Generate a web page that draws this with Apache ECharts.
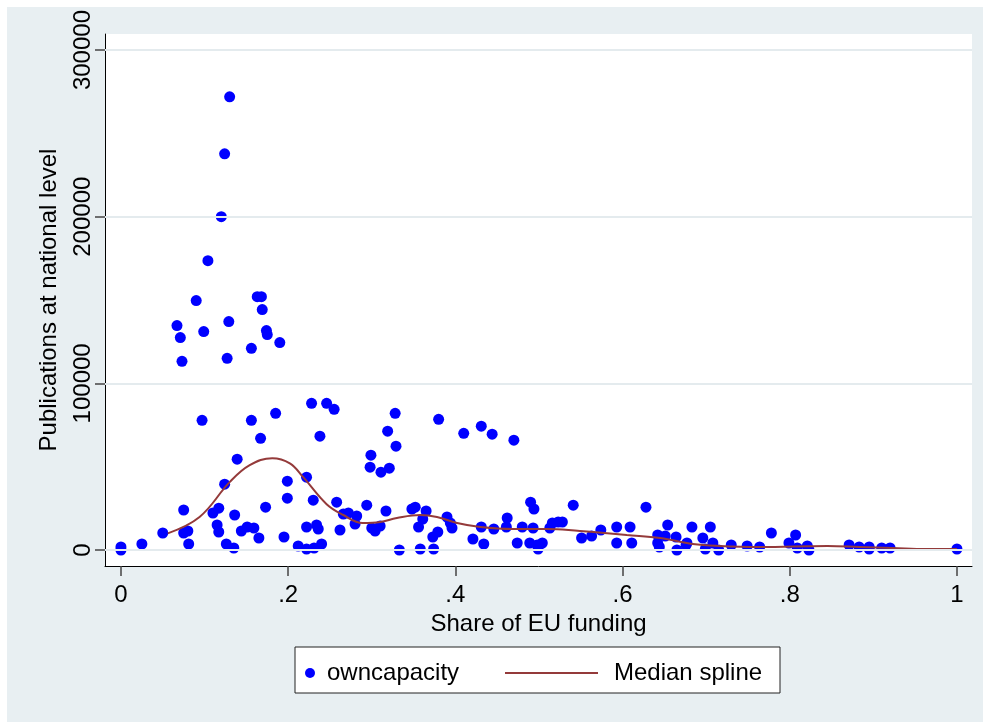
<!DOCTYPE html>
<html>
<head>
<meta charset="utf-8">
<script src="https://cdn.jsdelivr.net/npm/echarts@6/dist/echarts.min.js"></script>
<style>
  html, body { margin: 0; padding: 0; background: #ffffff; }
  #chart { position: absolute; left: 7px; top: 7px; width: 976px; height: 715px; }
</style>
</head>
<body>
<div id="chart"></div>
<script>
// share of EU funding (x) and publications at national level (y)
const shareEU = [
  0.130, 0.124, 0.120, 0.104, 0.090, 0.067, 0.071, 0.073, 0.099, 0.129,
  0.127, 0.163, 0.168, 0.169, 0.174, 0.175, 0.190, 0.156, 0.097, 0.156,
  0.185, 0.167, 0.139, 0.228, 0.246, 0.255, 0.238, 0.124, 0.199, 0.222,
  0.199, 0.230, 0.258, 0.075, 0.117, 0.110, 0.136, 0.173, 0.266, 0.272,
  0.050, 0.075, 0.080, 0.115, 0.117, 0.144, 0.151, 0.159, 0.165, 0.195,
  0.222, 0.234, 0.236, 0.262, 0.025, 0.081, 0.126, 0.135, 0.212, 0.222,
  0.231, 0.240, 0.000, 0.000,
  0.328, 0.319, 0.329, 0.299, 0.298, 0.311, 0.321, 0.380, 0.410, 0.431,
  0.444, 0.470, 0.282, 0.280, 0.294, 0.300, 0.304, 0.310, 0.317, 0.333,
  0.348, 0.352, 0.365, 0.361, 0.356, 0.358, 0.374, 0.373, 0.379, 0.390,
  0.394, 0.396, 0.421, 0.431, 0.434, 0.446, 0.462, 0.461, 0.474, 0.480,
  0.490, 0.494, 0.493, 0.489, 0.498, 0.499, 0.504, 0.513, 0.516, 0.523,
  0.528, 0.541, 0.551,
  0.563, 0.574, 0.593, 0.593, 0.609, 0.611, 0.628, 0.642, 0.644, 0.642,
  0.651, 0.654, 0.664, 0.665, 0.676, 0.677, 0.683, 0.696, 0.705, 0.699,
  0.708, 0.715, 0.730, 0.749, 0.764, 0.778, 0.799, 0.807, 0.809, 0.821,
  0.823, 0.871, 0.883, 0.895, 0.895, 0.910, 0.920, 1.000
]
const publications = [
  271900, 237700, 200000, 173600, 149700, 134700, 127500, 113200, 131100, 137100,
  115000, 152000, 152000, 144300, 131700, 129300, 124500, 121000, 77800, 77800,
  82000, 67000, 54500, 88000, 88000, 84400, 68300, 39500, 41300, 43700,
  31100, 29900, 28700, 24000, 25100, 22200, 21000, 25700, 21600, 22200,
  10200, 10200, 11400, 15000, 10800, 11400, 13800, 13200, 7200, 7800,
  13800, 15000, 12600, 12000, 3600, 3600, 3600, 1200, 2400, 600,
  1200, 3600, 1800, 0,
  82000, 71300, 62300, 56900, 49700, 46700, 49100, 78400, 70000, 74300,
  69500, 65900, 20400, 15600, 26900, 13200, 11400, 14400, 23400, 0,
  24600, 25700, 23400, 18600, 13800, 600, 600, 7800, 10800, 19800,
  16200, 13200, 6600, 13800, 3600, 12600, 19200, 13800, 4200, 13800,
  28700, 24600, 13200, 4200, 3000, 600, 4200, 13200, 16200, 16800,
  16800, 26900, 7200,
  8400, 12000, 13800, 4200, 13800, 4200, 25700, 9000, 1800, 4200,
  8400, 15000, 7800, 0, 3000, 4200, 13800, 7200, 13800, 600,
  4200, 0, 3000, 2400, 1800, 10200, 4200, 9000, 1200, 2400,
  0, 3000, 1800, 1800, 600, 1200, 1200, 600
]

// median spline
const splineX = [0.056, 0.094, 0.13, 0.154, 0.181, 0.202, 0.218, 0.246, 0.266, 0.289,
  0.31, 0.33, 0.358, 0.378, 0.402, 0.43, 0.469, 0.51, 0.549, 0.565,
  0.605, 0.645, 0.684, 0.716, 0.764, 0.845, 0.884, 0.923, 0.964, 1.0]
const splineY = [10000, 19800, 40700, 50900, 55100, 52000, 43700, 27500, 21000, 16200,
  16800, 19200, 21000, 19800, 16200, 13800, 12600, 12600, 11400, 10800,
  9000, 7200, 3600, 2400, 1800, 2400, 1800, 1200, 600, 600]

const xTicks = [0, 0.2, 0.4, 0.6, 0.8, 1]
const xTickLabels = ['0', '.2', '.4', '.6', '.8', '1']
const yTicks = [0, 100000, 200000, 300000]
const xMin = -0.0191
const xMax = 1.018

const font = 'Liberation Sans, Arial, sans-serif'
const chart = echarts.init(document.getElementById('chart'))

const option = {
  backgroundColor: '#e8eff2',
  animation: false,
  grid: {
    left: 98,
    top: 26,
    right: 11,
    bottom: 156,
    show: true,
    backgroundColor: '#ffffff',
    borderWidth: 0
  },
  graphic: [
    {
      type: 'rect',
      z: 1,
      shape: { x: 288, y: 640, width: 485, height: 46 },
      style: { fill: '#ffffff', stroke: '#222222', lineWidth: 1 }
    }
  ],
  legend: [
    {
      data: ['owncapacity'],
      left: 293,
      top: 649,
      z: 5,
      itemWidth: 10,
      itemHeight: 10,
      icon: 'circle',
      textStyle: { fontFamily: font, fontSize: 24, color: '#000', padding: [0, 0, 0, 7] }
    },
    {
      data: ['Median spline'],
      left: 493,
      top: 649,
      z: 5,
      itemWidth: 93,
      itemHeight: 2,
      icon: 'rect',
      textStyle: { fontFamily: font, fontSize: 24, color: '#000', padding: [0, 0, 0, 11] }
    }
  ],
  xAxis: {
    type: 'value',
    min: xMin,
    max: xMax,
    name: 'Share of EU funding',
    nameLocation: 'middle',
    nameGap: 40,
    nameTextStyle: { fontFamily: font, fontSize: 24, color: '#000' },
    axisLine: { onZero: false, lineStyle: { color: '#000', width: 1 } },
    axisTick: { show: true, customValues: xTicks, length: 10, lineStyle: { color: '#444', width: 1.5 } },
    axisLabel: {
      customValues: xTicks,
      margin: 17,
      fontFamily: font,
      fontSize: 24,
      color: '#000',
      formatter: (v) => xTickLabels[xTicks.indexOf(v)]
    },
    splitLine: { show: false }
  },
  yAxis: {
    type: 'value',
    min: -9600,
    max: 309600,
    name: 'Publications at national level',
    nameLocation: 'middle',
    nameRotate: 90,
    nameGap: 44,
    nameTextStyle: { fontFamily: font, fontSize: 24, color: '#000' },
    axisLine: { show: true, onZero: false, lineStyle: { color: '#000', width: 1 } },
    axisTick: { show: true, customValues: yTicks, length: 10, lineStyle: { color: '#444', width: 1.5 } },
    axisLabel: {
      customValues: yTicks,
      rotate: 90,
      margin: 10,
      fontFamily: font,
      fontSize: 24,
      color: '#000',
      formatter: (v) => String(v)
    },
    splitLine: { show: false }
  },
  series: [
    {
      // horizontal grid lines at the y ticks
      name: 'grid',
      type: 'scatter',
      data: [],
      z: 1,
      silent: true,
      markLine: {
        silent: true,
        symbol: 'none',
        label: { show: false },
        lineStyle: { color: '#e4ebee', width: 2, type: 'solid' },
        data: yTicks.map((v) => [{ coord: [xMin, v] }, { coord: [xMax, v] }])
      }
    },
    {
      name: 'owncapacity',
      type: 'scatter',
      z: 3,
      symbol: 'circle',
      symbolSize: 11,
      itemStyle: { color: '#0000ff', opacity: 1 },
      data: shareEU.map((x, i) => [x, publications[i]])
    },
    {
      name: 'Median spline',
      type: 'line',
      z: 4,
      smooth: 0.4,
      showSymbol: false,
      symbol: 'none',
      lineStyle: { color: '#943a3a', width: 2 },
      itemStyle: { color: '#943a3a' },
      data: splineX.map((x, i) => [x, splineY[i]])
    }
  ]
}

chart.setOption(option)
</script>
</body>
</html>
